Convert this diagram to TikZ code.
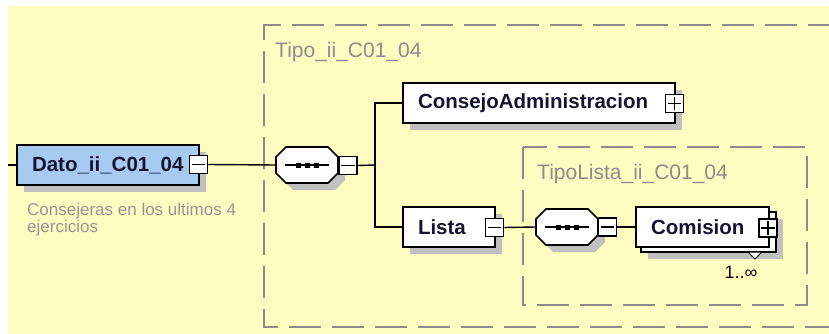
\documentclass[tikz,border=0pt]{standalone}
\usepackage{fontspec}
\setmainfont{Liberation Sans}
\usetikzlibrary{shadows}

\definecolor{bgyellow}{RGB}{255,252,194}
\definecolor{datoblue}{RGB}{166,202,240}
\definecolor{shadegray}{RGB}{192,192,192}
\definecolor{framegray}{RGB}{140,140,140}
\definecolor{notegray}{RGB}{150,150,150}
\definecolor{elemtext}{RGB}{20,20,50}

\begin{document}
\begin{tikzpicture}[x=1pt,y=-1pt]
		\tikzset{elem/.style = {draw, line width=1.6pt, fill=white, minimum height=40pt, inner xsep=15pt, inner ysep=0pt, align=left, text=elemtext, font=\fontsize{20.5}{24}\selectfont\bfseries},
			shadowed/.style = {drop shadow={shadow xshift=7pt, shadow yshift=-7pt, fill=shadegray, opacity=1}},
			toggle/.style = {draw, line width=1.5pt, fill=white, minimum width=18pt, minimum height=18pt, inner sep=0pt},
			seq/.style = {minimum width=62pt, minimum height=36pt, inner sep=0pt},
			sequence/.pic = {
				\fill[shadegray] (-14,-11) -- (28,-11) -- (38,-1) -- (38,15) -- (28,25) -- (-14,25) -- (-24,15) -- (-24,-1) -- cycle;
				\draw[line width=1.6pt, fill=white] (-21,-18) -- (21,-18) -- (31,-8) -- (31,8) -- (21,18) -- (-21,18) -- (-31,8) -- (-31,-8) -- cycle;
				\draw[line width=1.3pt] (-22,0) -- (22,0);
				\foreach \dx in {-9,0,9}
					\fill (\dx-2.5,-2.5) rectangle (\dx+2.5,2.5);
			},
			frame/.style = {draw=framegray, line width=1.8pt, dash pattern=on 32pt off 11pt},
			framelabel/.style = {text=framegray, font=\fontsize{21}{25}\selectfont, anchor=base west, inner sep=0pt},
			link/.style = {line width=1.4pt}}

		\useasboundingbox (0,0) rectangle (829,334);
		\fill[bgyellow] (8,6) rectangle (829,334);

		% type frames
		\draw[frame] (840,25) -- (264,25) -- (264,327) -- (840,327);
		\draw[frame] (523,147) rectangle (807,305);
		\node[framelabel] (tipo) at (275,58) {Tipo\_ii\_C01\_04};
		\node[framelabel] (tipolista) at (537,179) {TipoLista\_ii\_C01\_04};

		% root element
		\coordinate (entry) at (8,165);
		\node[elem, shadowed, fill=datoblue, text width=152pt] (dato) at (108,165) {Dato\_ii\_C01\_04};
		\node[toggle] (dato_t) at (198.5,164.5) {};
		\node[anchor=north west, inner sep=0pt, align=left, text=notegray, font=\fontsize{17}{17}\selectfont] (dato_note) at (27,203) {Consejeras en los ultimos 4\\ejercicios};

		% first sequence
		\node[seq] (seq_1) at (307,165) {};
		\pic at (seq_1.center) {sequence};
		\node[toggle] (seq_1_t) at (348,165.5) {};
		\coordinate (fork) at (375,165);

		\node[elem, shadowed, text width=242pt] (consejo) at (539,103) {ConsejoAdministracion};
		\node[toggle] (consejo_t) at (674.5,103.5) {};
		\node[elem, shadowed, text width=62pt] (lista) at (449,227) {Lista};
		\node[toggle] (lista_t) at (494.5,227.5) {};

		% second sequence
		\node[seq] (seq_2) at (567,227) {};
		\pic at (seq_2.center) {sequence};
		\node[toggle] (seq_2_t) at (607.5,227) {};

		\node[elem, shadowed, text width=105pt] (comision_b) at (708.5,232) {};
		\node[elem, text width=103pt] (comision) at (702.5,227) {Comision};
		\node[toggle] (comision_t) at (768,228) {};
		\draw[line width=1pt, fill=white] (748,252) -- (762,252) -- (755,259) -- cycle;
		\node[inner sep=0pt, text=black!85!red, font=\fontsize{18}{18}\selectfont] (mult) at (741,272) {1..∞};

		% minus and plus signs
		\foreach \t in {dato_t,seq_1_t,lista_t,seq_2_t,consejo_t,comision_t}
			\draw[link] ([xshift=3pt]\t.west) -- ([xshift=-3pt]\t.east);
		\foreach \t in {consejo_t,comision_t}
			\draw[link] ([yshift=3pt]\t.south) -- ([yshift=-3pt]\t.north);

		\draw[link] (entry) -- (dato.west);
		\draw[link] (dato_t.east) -- (seq_1.west);
		\draw[link] (seq_1_t.east) -- (fork);
		\draw[link] (fork) |- (consejo.west);
		\draw[link] (fork) |- (lista.west);
		\draw[link] (lista_t.east) -- (seq_2.west);
		\draw[link] (seq_2_t.east) -- (comision.west);

	\end{tikzpicture}
\end{document}
